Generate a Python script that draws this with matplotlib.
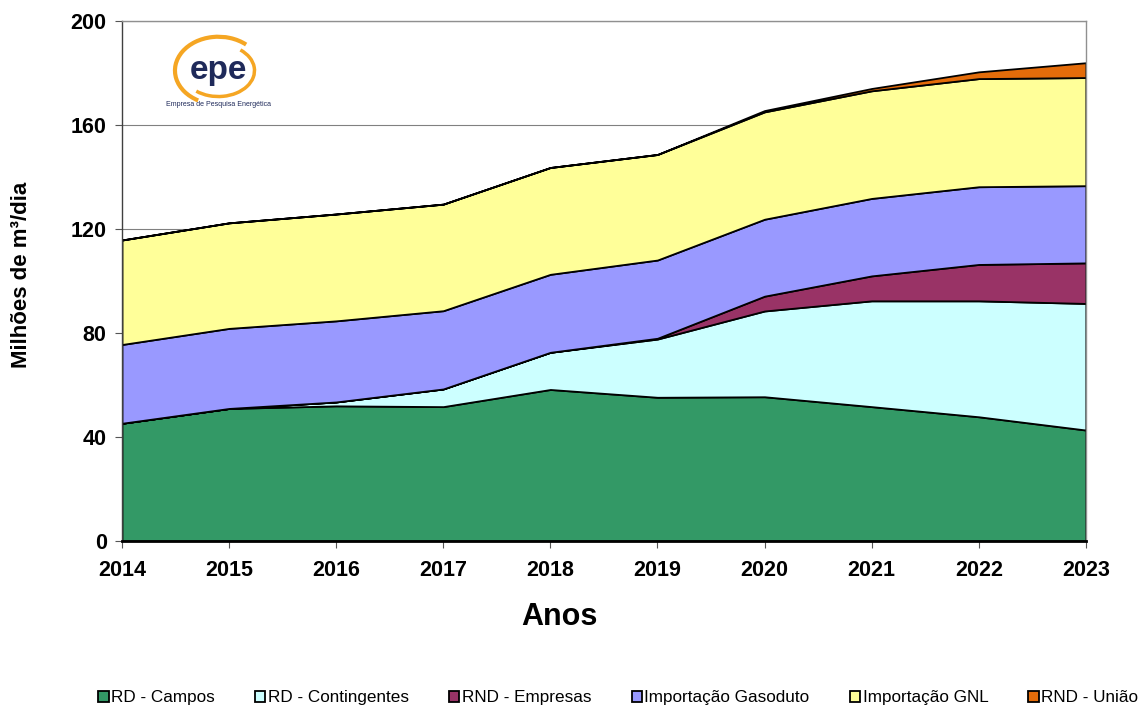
"""
Oferta de gás natural por fonte, 2014-2023 (gráfico de áreas empilhadas)
"""
import matplotlib
matplotlib.use("Agg")
import matplotlib.pyplot as plt
from matplotlib.patches import Arc
import numpy as np

plt.rcParams['font.family'] = ['Liberation Sans', 'DejaVu Sans']

anos = [2014, 2015, 2016, 2017, 2018, 2019, 2020, 2021, 2022, 2023]
rd_campos = [45.3, 51.0, 52.0, 51.7, 58.3, 55.3, 55.5, 51.7, 47.8, 42.7]
rd_contingentes = [0.0, 0.0, 1.5, 6.8, 14.3, 22.4, 33.0, 40.7, 44.6, 48.7]
rnd_empresas = [0.0, 0.0, 0.0, 0.0, 0.0, 0.3, 5.7, 9.6, 14.0, 15.6]
imp_gasoduto = [30.3, 30.8, 31.2, 30.1, 30.0, 30.1, 29.6, 29.8, 29.9, 29.7]
imp_gnl = [40.2, 40.6, 41.1, 41.0, 41.1, 40.6, 41.3, 41.4, 41.6, 41.6]
rnd_uniao = [0.0, 0.0, 0.0, 0.0, 0.0, 0.0, 0.5, 0.9, 2.6, 5.7]

nomes = ['RD - Campos', 'RD - Contingentes', 'RND - Empresas',
         'Importação Gasoduto', 'Importação GNL', 'RND - União']
cores = ['#339966', '#CCFFFF', '#993366', '#9999FF', '#FFFF99', '#E46C0A']

fig = plt.figure(figsize=(11.43, 7.05), dpi=100)
ax = fig.add_axes([0.1067, 0.2326, 0.8433, 0.7374])

for y in range(40, 201, 40):
    ax.axhline(y, color='#808080', lw=0.8, zorder=0)

series = [rd_campos, rd_contingentes, rnd_empresas, imp_gasoduto, imp_gnl, rnd_uniao]
polys = ax.stackplot(anos, *series, colors=cores, labels=nomes,
                     edgecolor='black', linewidth=1.3, zorder=2)

ax.set_xlim(2014, 2023)
ax.set_ylim(0, 200)
ax.set_xticks(anos)
ax.set_yticks(np.arange(0, 201, 40))
ax.tick_params(axis='both', labelsize=15.5, direction='out', length=5, color='#555555')
ax.tick_params(axis='x', pad=9)
ax.tick_params(axis='y', pad=6)
for lab in ax.get_xticklabels() + ax.get_yticklabels():
    lab.set_fontweight('bold')

ax.spines['left'].set_color('#404040')
ax.spines['bottom'].set_color('black')
ax.spines['bottom'].set_linewidth(2)
ax.spines['top'].set_color('#909090')
ax.spines['right'].set_color('#909090')
for s in ['left', 'top', 'right']:
    ax.spines[s].set_linewidth(1.0)

fig.text(22 / 1143, 1 - 275 / 705, 'Milhões de m³/dia', fontsize=16, fontweight='bold',
         rotation=90, ha='center', va='center')
fig.text(559 / 1143, 1 - 617 / 705, 'Anos', fontsize=22, fontweight='bold',
         ha='center', va='center')

# logo (aproximação)
ax.text(0.1, 0.905, 'epe', transform=ax.transAxes, fontsize=24, fontweight='bold',
        color='#1F2A5A', ha='center', va='center', zorder=5)
ax.add_patch(Arc((0.1, 0.905), 0.09, 0.13, theta1=60, theta2=250, transform=ax.transAxes,
                 color='#F5A623', lw=3, zorder=5))
ax.add_patch(Arc((0.1, 0.905), 0.075, 0.10, theta1=240, theta2=420, transform=ax.transAxes,
                 color='#F5A623', lw=2.5, zorder=5))
ax.text(0.1, 0.84, 'Empresa de Pesquisa Energética', transform=ax.transAxes, fontsize=5,
        color='#1F2A5A', ha='center', va='center', zorder=5)

handles, labels = ax.get_legend_handles_labels()
leg = fig.legend(handles, labels, loc='lower center', ncol=6, fontsize=12.3, frameon=False,
                 bbox_to_anchor=(0.541, -0.022), handlelength=0.6, handleheight=0.6,
                 handletextpad=0.15, columnspacing=2.35)

fig.savefig('out.png', dpi=100)
